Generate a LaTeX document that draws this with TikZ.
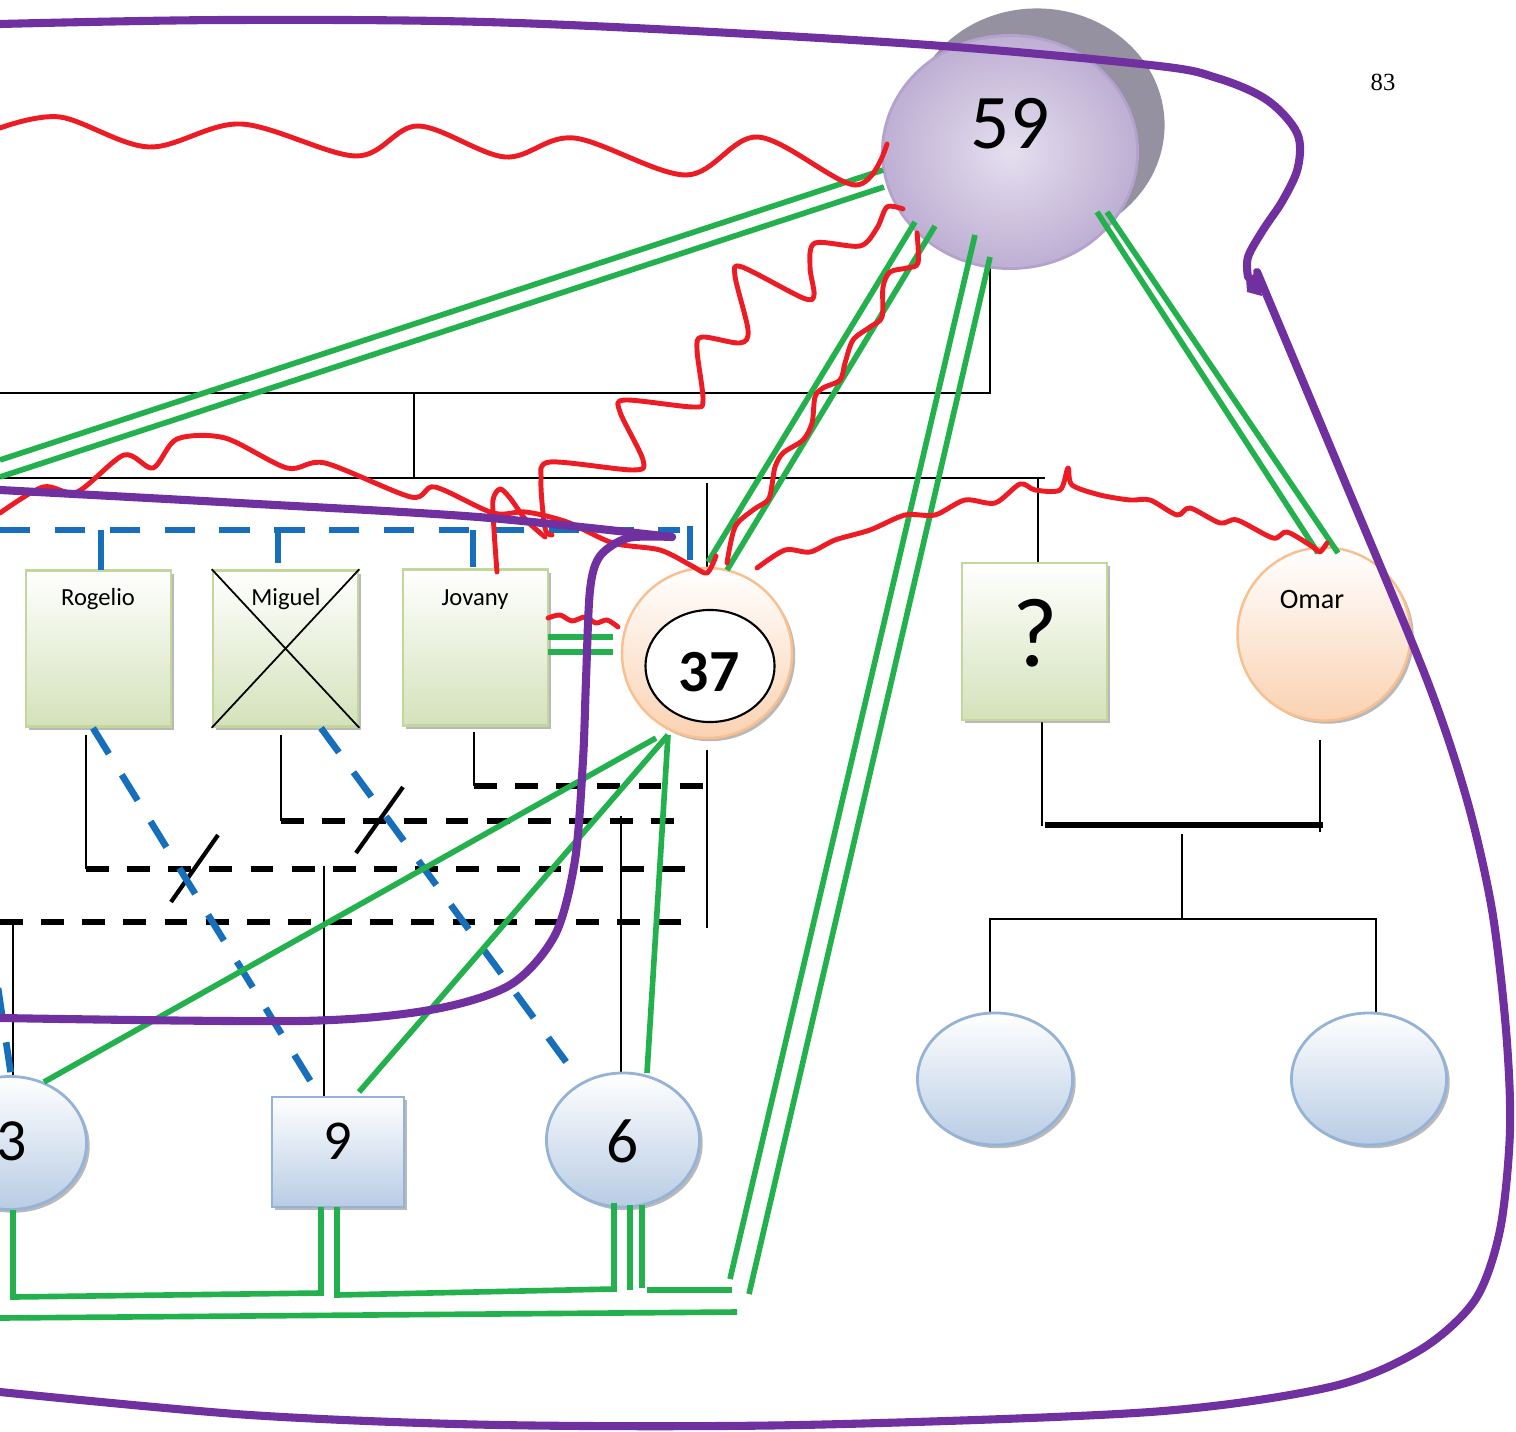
\documentclass[tikz,border=0pt]{standalone}
\usepackage{fontspec}
\setmainfont{Carlito}
\newfontfamily\pagefont{Liberation Serif}
\usetikzlibrary{shapes.geometric,shadows}
\definecolor{gline}{RGB}{34,177,76}
\definecolor{rline}{RGB}{237,28,36}
\definecolor{pline}{RGB}{112,48,160}
\definecolor{bline}{RGB}{23,111,188}
\definecolor{gfillb}{RGB}{212,226,186}
\definecolor{gborder}{RGB}{195,214,155}
\definecolor{pfillb}{RGB}{250,210,178}
\definecolor{pborder}{RGB}{250,191,143}
\definecolor{bfillb}{RGB}{184,204,228}
\definecolor{bborder}{RGB}{149,179,215}
\definecolor{lavin}{RGB}{229,223,239}
\definecolor{lavout}{RGB}{190,175,211}
\definecolor{lavborder}{RGB}{178,162,205}
\definecolor{shgray}{RGB}{150,145,160}
\begin{document}
\begin{tikzpicture}[x=0.01cm,y=-0.01cm,
  shd/.style={drop shadow={shadow xshift=0.9pt,shadow yshift=-0.9pt,fill=black!55,opacity=0.5}},
  gbox/.style={rectangle,draw=gborder,line width=0.7pt,top color=white,bottom color=gfillb,shd,inner sep=0pt,minimum width=1.45cm,minimum height=1.56cm},
  peach/.style={circle,draw=pborder,line width=0.7pt,top color=white,bottom color=pfillb,shd,inner sep=0pt},
  bnode/.style={draw=bborder,line width=0.8pt,top color=white,bottom color=bfillb,shd,inner sep=0pt},
  nm/.style={font=\fontsize{7}{8}\selectfont,anchor=base,inner sep=0pt},
  num/.style={font=\fontsize{17}{18}\selectfont,anchor=base,inner sep=0pt},
  linebk/.style={black,line width=0.5pt},
  dashbk/.style={black,line width=1.5pt,dash pattern=on 6.5pt off 5.2pt},
  slashbk/.style={black,line width=1.2pt},
  bdash/.style={bline,line width=1.9pt,dash pattern=on 8.6pt off 7pt},
  bsolid/.style={bline,line width=1.9pt},
  gl/.style={gline,line width=1.6pt},
  rl/.style={rline,line width=1.4pt,line cap=round,line join=round},
  pl/.style={pline,line width=2.3pt,line cap=round,line join=round}]
\useasboundingbox (0,0) rectangle (1516,1431);

% ---------- black genogram lines ----------
\coordinate (b59) at (990,256);
\coordinate (bk1) at (990,393);
\coordinate (bk2) at (0,393);
\coordinate (bk3) at (414,393);
\coordinate (bk4) at (414,478);
\coordinate (bk5) at (0,478);
\coordinate (bk6) at (1045,478);
\coordinate (bk7) at (707,483);
\coordinate (bk8) at (707,567);
\coordinate (bk9) at (1038,478);
\coordinate (bk10) at (1038,563);
\draw[linebk] (b59) -- (bk1) -- (bk2);
\draw[linebk] (bk3) -- (bk4);
\draw[linebk] (bk5) -- (bk6);
\draw[linebk] (bk7) -- (bk8);
\draw[linebk] (bk9) -- (bk10);

\coordinate (q1) at (1042,722);
\coordinate (q2) at (1042,826);
\coordinate (o1) at (1320,740);
\coordinate (o2) at (1320,832);
\coordinate (mar1) at (1045,825);
\coordinate (mar2) at (1323,825);
\coordinate (ch1) at (1182,834);
\coordinate (ch2) at (1182,919);
\coordinate (ch3) at (990,1013);
\coordinate (ch4) at (990,919);
\coordinate (ch5) at (1376,919);
\coordinate (ch6) at (1376,1013);
\draw[linebk] (q1) -- (q2);
\draw[linebk] (o1) -- (o2);
\draw[black,line width=1.5pt] (mar1) -- (mar2);
\draw[linebk] (ch1) -- (ch2);
\draw[linebk] (ch3) -- (ch4) -- (ch5) -- (ch6);

\coordinate (j1) at (474,732);
\coordinate (j2) at (474,786);
\coordinate (j3) at (708,786);
\coordinate (s1) at (707,750);
\coordinate (s2) at (707,928);
\coordinate (m1) at (281,735);
\coordinate (m2) at (281,821);
\coordinate (m3) at (683,821);
\coordinate (s3) at (621,816);
\coordinate (s4) at (621,1073);
\coordinate (r1) at (86,735);
\coordinate (r2) at (86,869);
\coordinate (r3) at (698,869);
\coordinate (s5) at (324,866);
\coordinate (s6) at (324,1097);
\coordinate (d1) at (0,922);
\coordinate (d2) at (694,922);
\coordinate (s7) at (13,920);
\coordinate (s8) at (13,1077);
\draw[linebk] (j1) -- (j2);
\draw[dashbk] (j2) -- (j3);
\draw[linebk] (s1) -- (s2);
\draw[linebk] (m1) -- (m2);
\draw[dashbk] (m2) -- (m3);
\draw[linebk] (s3) -- (s4);
\draw[linebk] (r1) -- (r2);
\draw[dashbk] (r2) -- (r3);
\draw[linebk] (s5) -- (s6);
\draw[dashbk] (d1) -- (d2);
\draw[linebk] (s7) -- (s8);
\coordinate (sl1a) at (171,902);
\coordinate (sl1b) at (218,835);
\coordinate (sl2a) at (356,853);
\coordinate (sl2b) at (403,787);
\draw[slashbk] (sl1a) -- (sl1b);
\draw[slashbk] (sl2a) -- (sl2b);

% ---------- nodes ----------
\node[ellipse,fill=shgray,minimum width=2.55cm,minimum height=2.33cm,inner sep=0pt] (sh59) at (1037,125) {};
\node[ellipse,draw=lavborder,line width=0.8pt,inner color=lavin,outer color=lavout,minimum width=2.55cm,minimum height=2.33cm,inner sep=0pt] (n59) at (1010,152) {};
\node[font=\fontsize{22}{24}\selectfont,anchor=base,inner sep=0pt] (t59) at (1010,149) {59};

\node[peach,minimum size=1.70cm] (n37) at (707,653) {};
\node[ellipse,draw=black,fill=white,line width=0.6pt,minimum width=1.29cm,minimum height=1.12cm,inner sep=0pt] (in37) at (710,666) {};
\node[font=\bfseries\fontsize{17}{18}\selectfont,anchor=base,inner sep=0pt] (t37) at (709,691) {37};

\node[peach,minimum size=1.73cm] (omar) at (1324,634) {};
\node[font=\fontsize{8}{9}\selectfont,anchor=base,inner sep=0pt] (tomar) at (1312,608) {Omar};

\node[gbox] (rog) at (98.5,648.5) {};
\node[nm] (trog) at (98,605) {Rogelio};
\node[gbox] (mig) at (285.5,648.5) {};
\draw[linebk] (mig.north west) -- (mig.south east);
\draw[linebk] (mig.north east) -- (mig.south west);
\node[nm] (tmig) at (286,605) {Miguel};
\node[gbox] (jov) at (475.5,647.5) {};
\node[nm] (tjov) at (475,605) {Jovany};

\node[gbox,minimum height=1.57cm] (qb) at (1034.5,641.5) {};
\node[font=\fontsize{28}{30}\selectfont,anchor=base,inner sep=0pt] (tq) at (1035,666) {?};

\node[bnode,ellipse,minimum width=1.53cm,minimum height=1.33cm] (n3) at (10,1143) {};
\node[num] (t3) at (12,1160) {3};
\node[bnode,rectangle,minimum width=1.32cm,minimum height=1.10cm] (n9) at (338,1152) {};
\node[num,font=\fontsize{16}{18}\selectfont] (t9) at (338,1159) {9};
\node[bnode,ellipse,minimum width=1.53cm,minimum height=1.34cm] (n6) at (623,1140) {};
\node[num,font=\fontsize{18}{20}\selectfont] (t6) at (623,1162) {6};
\node[bnode,ellipse,minimum width=1.55cm,minimum height=1.32cm] (e1) at (995,1079) {};
\node[bnode,ellipse,minimum width=1.55cm,minimum height=1.32cm] (e2) at (1369,1079) {};

\node[font=\pagefont\fontsize{7}{8}\selectfont,inner sep=0pt] (pg) at (1383,82) {83};

% ---------- blue dashed ----------
\coordinate (bl1) at (0,530);
\coordinate (bl2) at (680,530);
\coordinate (bl3) at (690,526);
\coordinate (bl4) at (690,560);
\draw[bdash] (bl1) -- (bl2);
\draw[bsolid] (bl3) -- (bl4);
\coordinate (bs1) at (101,530);
\coordinate (bs2) at (101,570);
\coordinate (bs3) at (278,530);
\coordinate (bs4) at (278,563);
\coordinate (bs5) at (473,530);
\coordinate (bs6) at (473,567);
\draw[bsolid] (bs1) -- (bs2);
\draw[bsolid] (bs3) -- (bs4);
\draw[bsolid] (bs5) -- (bs6);
\coordinate (bd1) at (93,728);
\coordinate (bd2) at (316,1090);
\coordinate (bd3) at (321,728);
\coordinate (bd4) at (572,1070);
\coordinate (bd5) at (-2,988);
\coordinate (bd6) at (13,1088);
\draw[bdash] (bd1) -- (bd2);
\draw[bdash] (bd3) -- (bd4);
\draw[bdash] (bd5) -- (bd6);

% ---------- green ----------
\coordinate (g1a) at (883,170);
\coordinate (g1b) at (0,460);
\coordinate (g2a) at (884,187);
\coordinate (g2b) at (0,477);
\draw[gl] (g1a) -- (g1b);
\draw[gl] (g2a) -- (g2b);
\coordinate (g3a) at (915,222);
\coordinate (g3b) at (708,562);
\coordinate (g4a) at (935,226);
\coordinate (g4b) at (727,570);
\draw[gl] (g3a) -- (g3b);
\draw[gl] (g4a) -- (g4b);
\coordinate (g5a) at (975,235);
\coordinate (g5b) at (730,1279);
\coordinate (g6a) at (990,257);
\coordinate (g6b) at (749,1294);
\draw[gl] (g5a) -- (g5b);
\draw[gl] (g6a) -- (g6b);
\coordinate (g7a) at (1097,212);
\coordinate (g7b) at (1318,553);
\coordinate (g8a) at (1107,212);
\coordinate (g8b) at (1338,553);
\draw[gl] (g7a) -- (g7b);
\draw[gl] (g8a) -- (g8b);
\coordinate (g9a) at (548,637);
\coordinate (g9b) at (613,637);
\coordinate (g10a) at (548,652);
\coordinate (g10b) at (613,652);
\draw[gl] (g9a) -- (g9b);
\draw[gl] (g10a) -- (g10b);
\coordinate (g11a) at (656,738);
\coordinate (g11b) at (44,1082);
\coordinate (g12a) at (668,735);
\coordinate (g12b) at (359,1092);
\coordinate (g13b) at (647,1073);
\draw[gl] (g11a) -- (g11b);
\draw[gl] (g12a) -- (g12b);
\draw[gl] (g12a) -- (g13b);
\coordinate (h1) at (13,1210);
\coordinate (h2) at (13,1297);
\coordinate (h3) at (321,1293);
\coordinate (h4) at (321,1207);
\coordinate (h5) at (337,1207);
\coordinate (h6) at (337,1295);
\coordinate (h7) at (614,1289);
\coordinate (h8) at (614,1203);
\coordinate (h9) at (630,1205);
\coordinate (h10) at (630,1290);
\coordinate (h11) at (642,1205);
\coordinate (h12) at (642,1288);
\coordinate (h13) at (647,1290);
\coordinate (h14) at (732,1290);
\coordinate (h15) at (0,1318);
\coordinate (h16) at (737,1312);
\draw[gl] (h1) -- (h2) -- (h3) -- (h4);
\draw[gl] (h5) -- (h6) -- (h7) -- (h8);
\draw[gl] (h9) -- (h10);
\draw[gl] (h11) -- (h12);
\draw[gl] (h13) -- (h14);
\draw[gl] (h15) -- (h16);

% ---------- red wavy lines ----------
\draw[rl] plot[smooth,tension=0.55] coordinates {(0,128) (60,117) (149,147) (241,124) (356,156) (418,126) (505,157) (574,138) (686,175) (758,137) (855,185) (887,144)};
\draw[rl] plot[smooth,tension=0.5] coordinates {(903,209) (887,207) (877,228) (860,246) (815,243) (810,267) (814,295) (803,298) (742,267) (735,276) (748,330) (740,343) (702,337) (697,350) (703,400) (693,407) (625,400) (620,412) (643,460) (633,470) (550,462) (541,480) (545,528) (552,535)};
\draw[rl] plot[smooth,tension=0.5] coordinates {(0,513) (43,487) (77,492) (124,455) (153,468) (177,439) (225,438) (287,468) (325,463) (411,497) (435,487) (493,513) (526,512) (567,522) (613,543) (660,550) (692,566) (707,573) (716,556)};
\draw[rl] plot[smooth,tension=0.5] coordinates {(497,572) (494,530) (493,500) (500,489) (510,498) (526,520) (545,537)};
\draw[rl] plot[smooth,tension=0.5] coordinates {(917,233) (918,263) (907,268) (890,272) (883,287) (882,317) (870,327) (853,340) (845,363) (840,380) (823,388) (815,397) (812,423) (803,440) (783,453) (775,467) (772,485) (768,500) (753,510) (735,527) (727,563)};
\draw[rl] plot[smooth,tension=0.5] coordinates {(757,568) (785,550) (810,552) (835,540) (870,530) (905,515) (935,515) (965,500) (995,503) (1020,484) (1035,490) (1060,490) (1068,468) (1072,485) (1100,495) (1130,500) (1150,500) (1177,515) (1190,508) (1220,523) (1237,520) (1273,538) (1287,532) (1313,547) (1320,552) (1327,543)};
\draw[rl] plot[smooth,tension=0.5] coordinates {(548,618) (560,615) (572,621) (585,617) (596,623) (607,620) (618,627)};

% ---------- purple ----------
\draw[pl] plot[smooth,tension=0.55] coordinates {(0,24) (230,20) (517,23) (900,43) (1150,65) (1217,78) (1267,100) (1297,133) (1298,167) (1283,200) (1263,230) (1248,257) (1248,277)};
\fill[pline] (1246,278) -- (1258,272) -- (1262,296) -- (1247,292) -- cycle;
\draw[pl] plot[smooth,tension=0.5] coordinates {(1257,272) (1340,470) (1427,680) (1467,800) (1492,910) (1506,1030) (1510,1130) (1500,1230) (1475,1300) (1420,1350) (1330,1387) (1150,1412) (800,1425) (500,1425) (250,1415) (0,1392)};
\draw[pl] plot[smooth,tension=0.5] coordinates {(0,490) (239,503) (478,517) (672,537)};
\draw[pl] plot[smooth,tension=0.5] coordinates {(672,537) (628,538) (600,556) (590,590) (586,680) (583,760) (575,860) (555,935) (510,985) (430,1010) (300,1021) (0,1018)};
\end{tikzpicture}
\end{document}
